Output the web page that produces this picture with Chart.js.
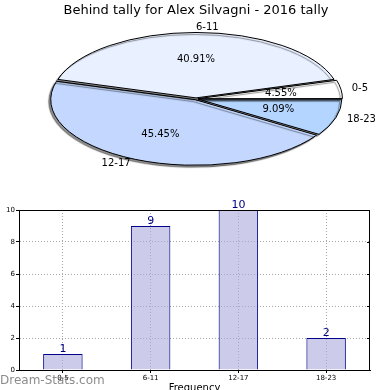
<!DOCTYPE html>
<html>
<head>
    <title>Behind tally for Alex Silvagni - 2016 tally</title>
    <script src="https://cdn.jsdelivr.net/npm/chart.js@4/dist/chart.umd.min.js"></script>
    <style>
        body { margin: 0; background: #fff; }
        #pieBox { position: absolute; left: 0; top: 0; width: 390px; height: 195px; }
        #barBox { position: absolute; left: 0; top: 195px; width: 390px; height: 195px; }
    </style>
</head>

<body>
    <div id="pieBox"><canvas id="pieChart"></canvas></div>
    <div id="barBox"><canvas id="barChart"></canvas></div>

    <script>
        var categories = ['0-5', '6-11', '12-17', '18-23'];
        var counts = [1, 9, 10, 2];
        var pieColors = ['#ffffff', '#e9f0ff', '#c4d8ff', '#b3d5ff'];
        var yTicks = [0, 2, 4, 6, 8, 10];
        var titleText = 'Behind tally for Alex Silvagni - 2016 tally';
        var xTitle = 'Frequency';
        var yTitle = 'Dist. Inter-Fall';

        var FONT = "'DejaVu Sans', sans-serif";
        var squash = 65 / 143; // pie is drawn as an ellipse

        // matplotlib goes counter-clockwise from 3 o'clock, chart.js clockwise -> reverse
        var pieLabels = categories.slice().reverse();
        var pieData = counts.slice().reverse();
        var pieFill = pieColors.slice().reverse();
        var total = counts.reduce(function(a, b) { return a + b; }, 0);

        var ellipsePlugin = {
            id: 'ellipse',
            beforeDatasetsDraw: function(chart) {
                var ctx = chart.ctx;
                var a = chart.chartArea;
                var cx = (a.left + a.right) / 2, cy = (a.top + a.bottom) / 2;
                ctx.save();
                ctx.translate(cx, cy);
                ctx.scale(1, squash);
                ctx.translate(-cx, -cy);
                ctx.shadowColor = 'rgba(0,0,0,0.45)';
                ctx.shadowOffsetX = -2;
                ctx.shadowOffsetY = 2;
                ctx.shadowBlur = 1;
                // stroke in device space so the outline keeps an even width
                ctx._origStroke = ctx.stroke;
                ctx.stroke = function() {
                    var t = this.getTransform();
                    this.setTransform(1, 0, 0, 1, 0, 0);
                    this._origStroke();
                    this.setTransform(t);
                };
            },
            afterDatasetsDraw: function(chart) {
                var ctx = chart.ctx;
                ctx.stroke = ctx._origStroke;
                ctx.restore();

                var meta = chart.getDatasetMeta(0);
                ctx.save();
                ctx.fillStyle = '#000';
                ctx.font = '10px ' + FONT;
                ctx.textBaseline = 'middle';
                meta.data.forEach(function(el, i) {
                    var p = el.getProps(['x', 'y', 'startAngle', 'endAngle', 'outerRadius'], true);
                    var mid = (p.startAngle + p.endAngle) / 2;
                    var c = Math.cos(mid), s = Math.sin(mid);
                    var R = p.outerRadius;
                    ctx.textAlign = c > -1e-9 ? 'left' : 'right';
                    ctx.fillText(pieLabels[i], p.x + c * R * 1.1, p.y + s * R * 1.1 * squash);
                    ctx.textAlign = 'center';
                    var pct = (pieData[i] / total * 100).toFixed(2) + '%';
                    ctx.fillText(pct, p.x + c * R * 0.6, p.y + s * R * 0.6 * squash);
                });
                ctx.restore();
            }
        };

        new Chart('pieChart', {
            type: 'pie',
            data: {
                labels: pieLabels,
                datasets: [{
                    data: pieData,
                    backgroundColor: pieFill,
                    borderColor: '#000',
                    borderWidth: 1,
                    offset: 8,
                    radius: 143
                }]
            },
            options: {
                responsive: true,
                maintainAspectRatio: false,
                animation: false,
                rotation: 90,
                events: [],
                layout: { padding: { left: 2, right: 0, top: 0, bottom: 16 } },
                plugins: {
                    legend: { display: false },
                    tooltip: { enabled: false },
                    title: {
                        display: true,
                        text: titleText,
                        color: '#000',
                        font: { family: FONT, size: 13, weight: 'normal' },
                        padding: { top: 3, bottom: 0 }
                    }
                }
            },
            plugins: [ellipsePlugin]
        });

        // bar chart: box, value labels, axis titles and watermark
        var barExtras = {
            id: 'barExtras',
            afterDatasetsDraw: function(chart) {
                var ctx = chart.ctx;
                var a = chart.chartArea;
                ctx.save();
                ctx.strokeStyle = '#000';
                ctx.lineWidth = 1;
                ctx.strokeRect(a.left + 0.5, a.top + 0.5, a.right - a.left - 1, a.bottom - a.top);
                // small ticks on the right edge
                var ys = chart.scales.y;
                yTicks.forEach(function(v) {
                    var y = Math.round(ys.getPixelForValue(v)) + 0.5;
                    ctx.beginPath();
                    ctx.moveTo(a.right - 3, y);
                    ctx.lineTo(a.right, y);
                    ctx.stroke();
                });

                ctx.fillStyle = '#000080';
                ctx.font = '11px ' + FONT;
                ctx.textAlign = 'center';
                ctx.textBaseline = 'bottom';
                chart.getDatasetMeta(0).data.forEach(function(bar, i) {
                    ctx.fillText(String(counts[i]), bar.x, bar.y + 1);
                });

                ctx.fillStyle = '#000';
                ctx.font = '10px ' + FONT;
                ctx.textBaseline = 'top';
                ctx.fillText(xTitle, (a.left + a.right) / 2, a.bottom + 13);

                ctx.translate(0, (a.top + a.bottom) / 2);
                ctx.rotate(-Math.PI / 2);
                ctx.textBaseline = 'middle';
                ctx.fillText(yTitle, 0, -3);
                ctx.restore();

                ctx.save();
                ctx.fillStyle = 'rgba(110,110,110,0.8)';
                ctx.font = '12px ' + FONT;
                ctx.textAlign = 'left';
                ctx.textBaseline = 'middle';
                ctx.fillText('Dream-Stats.com', 0, a.bottom + 11);
                ctx.restore();
            }
        };

        new Chart('barChart', {
            type: 'bar',
            data: {
                labels: categories,
                datasets: [{
                    data: counts,
                    backgroundColor: 'rgba(170,170,220,0.6)',
                    borderColor: '#00008b',
                    borderWidth: 1,
                    barPercentage: 0.45,
                    categoryPercentage: 1
                }]
            },
            options: {
                responsive: true,
                maintainAspectRatio: false,
                animation: false,
                events: [],
                layout: { padding: { left: 0, right: 20, top: 15, bottom: 0 } },
                plugins: {
                    legend: { display: false },
                    tooltip: { enabled: false }
                },
                scales: {
                    x: {
                        offset: true,
                        afterFit: function(scale) { scale.height = 20; },
                        grid: {
                            offset: false,
                            color: '#a8a8a8',
                            tickLength: 3,
                            tickColor: '#000'
                        },
                        border: { display: true, color: '#000', dash: [1, 2] },
                        ticks: { color: '#000', font: { family: FONT, size: 7 }, padding: 1, maxRotation: 0 }
                    },
                    y: {
                        min: 0,
                        max: 10,
                        afterFit: function(scale) { scale.width = 19; },
                        afterBuildTicks: function(scale) {
                            scale.ticks = yTicks.map(function(v) { return { value: v }; });
                        },
                        grid: {
                            color: '#a8a8a8',
                            tickLength: 3,
                            tickColor: '#000'
                        },
                        border: { display: true, color: '#000', dash: [1, 2] },
                        ticks: { color: '#000', font: { family: FONT, size: 7 }, padding: 1 }
                    }
                }
            },
            plugins: [barExtras]
        });
    </script>
</body>
</html>
